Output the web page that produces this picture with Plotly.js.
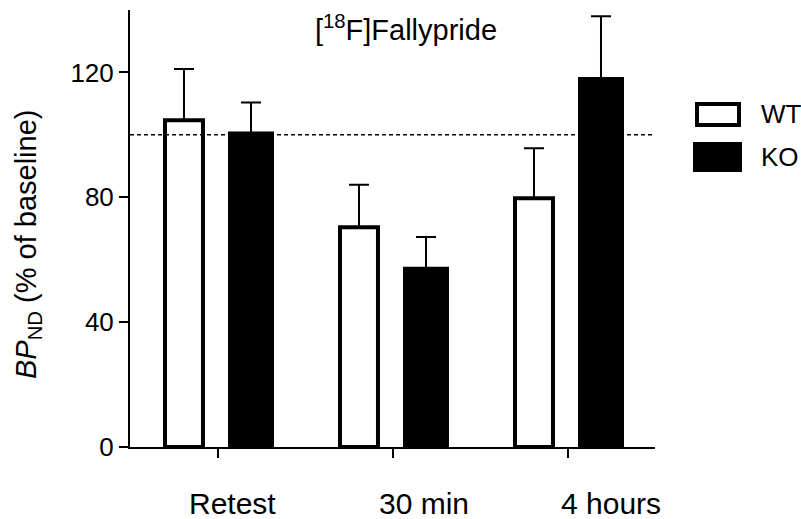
<!DOCTYPE html>
<html>
<head>
<meta charset="utf-8">
<script src="https://cdn.plot.ly/plotly-3.0.1.min.js"></script>
<style>html,body{margin:0;padding:0;background:#fff;}#chart{width:801px;height:519px;}</style>
</head>
<body>
<div id="chart"></div>
<script>
// ---- data ----
const categories = ["Retest", "30 min", "4 hours"];
const wtValues = [104.7, 70.4, 79.7];
const wtErrors = [16.4, 13.6, 16.0];
const koValues = [100.4, 57.1, 117.9];
const koErrors = [10.0, 10.2, 20.1];
const yTicks = [0, 40, 80, 120];
const baseline = 100;
const seriesNames = ["WT", "KO"];

// ---- layout helpers (styles only) ----
const FONT = "Liberation Sans, Arial, Helvetica, sans-serif";
const L = 130, R = 146, T = 10, B = 72, W = 801, H = 519;
const pw = W - L - R, ph = H - T - B;
const px2x = p => (p - L) / pw;
const py2y = p => (H - B - p) / ph;
const catIdx = categories.map((c, i) => i);
const labelShift = [15, 31, 43];

const wt = {
  type: "bar", name: seriesNames[0], x: catIdx, y: wtValues,
  width: 0.217, offset: -0.3,
  marker: {color: "#ffffff", line: {color: "#000000", width: 4}},
  error_y: {type: "data", symmetric: false, array: wtErrors, arrayminus: wtErrors.map(() => 0),
            color: "#000000", thickness: 2, width: 10},
  showlegend: false, hoverinfo: "skip"
};
const ko = {
  type: "bar", name: seriesNames[1], x: catIdx, y: koValues,
  width: 0.24, offset: 0.0714,
  marker: {color: "#000000", line: {color: "#000000", width: 4}},
  error_y: {type: "data", symmetric: false, array: koErrors, arrayminus: koErrors.map(() => 0),
            color: "#000000", thickness: 2, width: 10},
  showlegend: false, hoverinfo: "skip"
};

const annotations = categories.map((c, i) => ({
  x: i, xref: "x", y: py2y(504), yref: "paper", text: c, showarrow: false,
  xanchor: "center", yanchor: "middle", xshift: labelShift[i],
  font: {family: FONT, size: 30, color: "#000"}
}));
annotations.push({
  x: px2x(28), xref: "paper", y: py2y(245), yref: "paper", textangle: -90,
  text: "<i>BP</i><sub>ND</sub> (% of baseline)", showarrow: false,
  xanchor: "center", yanchor: "middle", font: {family: FONT, size: 29, color: "#000"}
});
annotations.push({
  x: px2x(759), xref: "paper", y: py2y(114), yref: "paper", text: seriesNames[0], showarrow: false,
  xanchor: "left", yanchor: "middle", font: {family: FONT, size: 26, color: "#000"}
});
annotations.push({
  x: px2x(759), xref: "paper", y: py2y(157), yref: "paper", text: seriesNames[1], showarrow: false,
  xanchor: "left", yanchor: "middle", font: {family: FONT, size: 26, color: "#000"}
});

const shapes = [
  {type: "line", xref: "paper", x0: 0, x1: 1, yref: "y", y0: baseline, y1: baseline,
   line: {color: "#000", width: 1.5, dash: "4px,3px"}},
  {type: "rect", xref: "paper", yref: "paper", x0: px2x(697), x1: px2x(739), y0: py2y(125), y1: py2y(104),
   fillcolor: "#fff", line: {color: "#000", width: 4}},
  {type: "rect", xref: "paper", yref: "paper", x0: px2x(695), x1: px2x(740), y0: py2y(170), y1: py2y(144),
   fillcolor: "#000", line: {color: "#000", width: 4}}
];

const layout = {
  width: W, height: H,
  margin: {l: L, r: R, t: T, b: B, pad: 0},
  paper_bgcolor: "#fff", plot_bgcolor: "#fff",
  font: {family: FONT, color: "#000"},
  title: {text: "[<sup>18</sup>F]Fallypride", x: 406 / W, xanchor: "center", y: 1 - 30 / H, yanchor: "middle",
          font: {family: FONT, size: 29, color: "#000"}},
  barmode: "overlay",
  xaxis: {range: [-0.5, 2.5], tickvals: catIdx, showticklabels: false,
          showline: true, linecolor: "#000", linewidth: 2, ticks: "outside", ticklen: 9, tickwidth: 2,
          tickcolor: "#000", showgrid: false, zeroline: false, fixedrange: true},
  yaxis: {range: [0, 140], tickvals: yTicks, ticktext: yTicks.map(String),
          showline: true, linecolor: "#000", linewidth: 2, ticks: "outside", ticklen: 9, tickwidth: 2,
          tickcolor: "#000", showgrid: false, zeroline: false, fixedrange: true,
          tickfont: {family: FONT, size: 26, color: "#000"}},
  annotations: annotations,
  shapes: shapes,
  showlegend: false
};

Plotly.newPlot("chart", [wt, ko], layout, {displayModeBar: false, staticPlot: true});
</script>
</body>
</html>
